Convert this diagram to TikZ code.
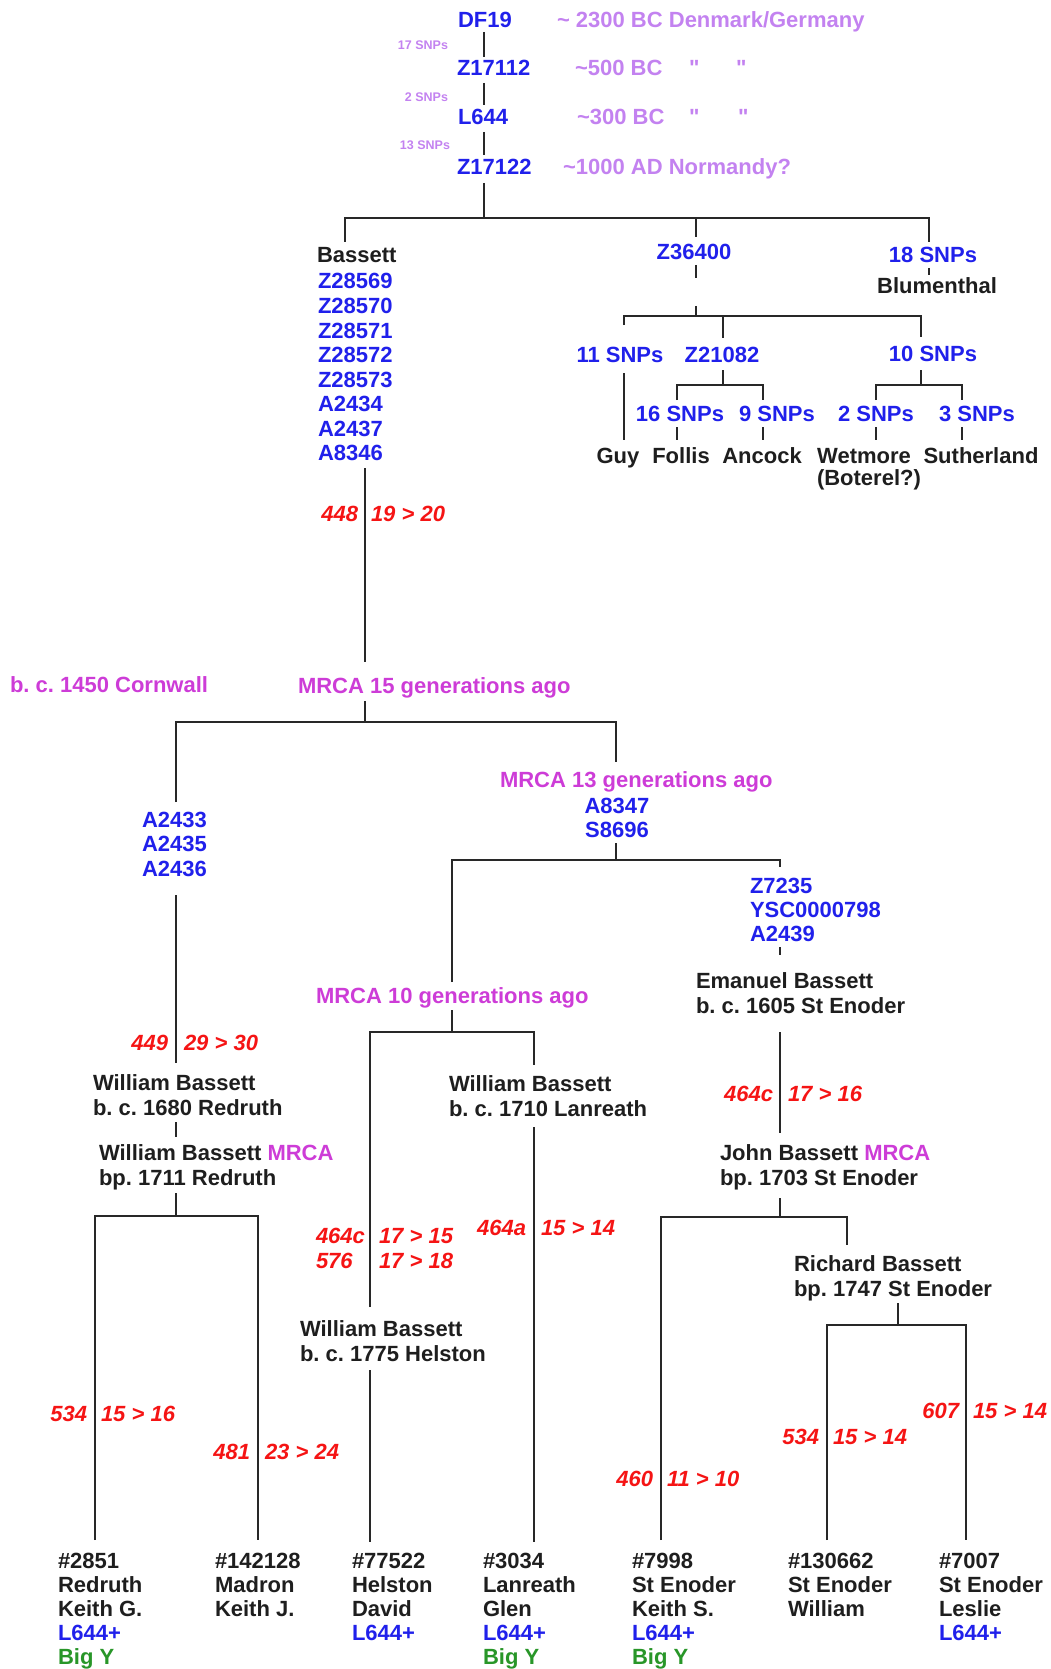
\documentclass[tikz,border=0pt]{standalone}
\usepackage{fontspec}
\setmainfont{Liberation Sans}
\frenchspacing
\definecolor{tblue}{RGB}{32,32,235}
\definecolor{tred}{RGB}{245,20,20}
\definecolor{tgreen}{RGB}{40,150,40}
\definecolor{tmag}{RGB}{205,60,215}
\definecolor{tlav}{RGB}{195,130,240}
\definecolor{tline}{RGB}{40,40,40}
\definecolor{tblack}{RGB}{30,30,30}
\newcommand\straightq{{\addfontfeatures{Ligatures=TeXOff}\symbol{34}}}
\begin{document}
\begin{tikzpicture}[x=1pt,y=-1pt,
  every node/.style={inner sep=0pt,outer sep=0pt,font=\fontsize{22}{24}\selectfont\bfseries},
  lbl/.style={anchor=base west},
  ctr/.style={anchor=base},
  rgt/.style={anchor=base east},
  snp/.style={text=tblue},
  nm/.style={text=tblack},
  date/.style={text=tlav},
  mrca/.style={text=tmag},
  cnt/.style={text=tred,font=\fontsize{22}{24}\selectfont\bfseries\itshape},
  small/.style={text=tlav,font=\fontsize{12.5}{14}\selectfont\bfseries},
  bigy/.style={text=tgreen},
  br/.style={draw=tline,line width=2.4pt},
]
\useasboundingbox (0,0) rectangle (1051,1669);

% ---------- top chain ----------
\node[snp,lbl] (df19) at (458,28) {DF19};
\node[snp,lbl] (z17112) at (457,76) {Z17112};
\node[snp,lbl] (l644) at (458,125) {L644};
\node[snp,lbl] (z17122) at (457,175) {Z17122};
\node[small,rgt] (s17) at (448,49.5) {17 SNPs};
\node[small,rgt] (s2) at (448,101.5) {2 SNPs};
\node[small,rgt] (s13) at (450,149.5) {13 SNPs};
\node[date,lbl] (d1) at (557,28) {\textasciitilde{} 2300 BC Denmark/Germany};
\node[date,lbl] (d2) at (575,76) {\textasciitilde500 BC};
\node[date,lbl] (q1) at (689,76) {\straightq};
\node[date,lbl] (q2) at (736,76) {\straightq};
\node[date,lbl] (d3) at (577,125) {\textasciitilde300 BC};
\node[date,lbl] (q3) at (689,125) {\straightq};
\node[date,lbl] (q4) at (738,125) {\straightq};
\node[date,lbl] (d4) at (563,175) {\textasciitilde1000 AD Normandy?};

\coordinate (a1) at (484,32); \coordinate (a2) at (484,57);
\coordinate (a3) at (484,83); \coordinate (a4) at (484,105);
\coordinate (a5) at (484,132); \coordinate (a6) at (484,155);
\coordinate (a7) at (484,183); \coordinate (a8) at (484,218);
\draw[br] (a1)--(a2); \draw[br] (a3)--(a4); \draw[br] (a5)--(a6); \draw[br] (a7)--(a8);

% top bar
\coordinate (tb1) at (345,242); \coordinate (tb2) at (345,218);
\coordinate (tb3) at (929,218); \coordinate (tb4) at (929,242);
\draw[br] (tb1)--(tb2)--(tb3)--(tb4);
\coordinate (zd1) at (696,218); \coordinate (zd2) at (696,237);
\draw[br] (zd1)--(zd2);

% ---------- Bassett column ----------
\node[nm,lbl] (bassett) at (317,263) {Bassett};
\node[snp,lbl] (z28569) at (318,289) {Z28569};
\node[snp,lbl] (z28570) at (318,313.5) {Z28570};
\node[snp,lbl] (z28571) at (318,338) {Z28571};
\node[snp,lbl] (z28572) at (318,362.5) {Z28572};
\node[snp,lbl] (z28573) at (318,387) {Z28573};
\node[snp,lbl] (a2434) at (318,411.5) {A2434};
\node[snp,lbl] (a2437) at (318,436) {A2437};
\node[snp,lbl] (a8346) at (318,460.5) {A8346};
\coordinate (bl1) at (365,468); \coordinate (bl2) at (365,662);
\draw[br] (bl1)--(bl2);
\node[cnt,rgt] (c448) at (358,521) {448};
\node[cnt,lbl] (g448) at (371,521) {19 > 20};

% ---------- Z36400 branch ----------
\node[snp,ctr] (z36400) at (694,260) {Z36400};
\coordinate (zt1) at (696,265); \coordinate (zt2) at (696,278);
\draw[br] (zt1)--(zt2);
\coordinate (zt3) at (696,306); \coordinate (zt4) at (696,316);
\draw[br] (zt3)--(zt4);
\coordinate (zb1) at (624,325); \coordinate (zb2) at (624,316);
\coordinate (zb3) at (921,316); \coordinate (zb4) at (921,337);
\draw[br] (zb1)--(zb2)--(zb3)--(zb4);
\coordinate (zm1) at (723,316); \coordinate (zm2) at (723,338);
\draw[br] (zm1)--(zm2);

\node[snp,ctr] (s18) at (933,263) {18 SNPs};
\coordinate (bt1) at (929,268); \coordinate (bt2) at (929,275);
\draw[br] (bt1)--(bt2);
\node[nm,ctr] (blum) at (937,294) {Blumenthal};

\node[snp,ctr] (s11) at (620,362) {11 SNPs};
\node[snp,ctr] (z21082) at (722,362) {Z21082};
\node[snp,ctr] (s10) at (933,361) {10 SNPs};

\coordinate (gl1) at (624,373); \coordinate (gl2) at (624,440);
\draw[br] (gl1)--(gl2);

\coordinate (zs1) at (723,370); \coordinate (zs2) at (723,385);
\draw[br] (zs1)--(zs2);
\coordinate (zc1) at (677,400); \coordinate (zc2) at (677,385);
\coordinate (zc3) at (763,385); \coordinate (zc4) at (763,400);
\draw[br] (zc1)--(zc2)--(zc3)--(zc4);

\coordinate (ts1) at (921,370); \coordinate (ts2) at (921,385);
\draw[br] (ts1)--(ts2);
\coordinate (tc1) at (876,400); \coordinate (tc2) at (876,385);
\coordinate (tc3) at (962,385); \coordinate (tc4) at (962,400);
\draw[br] (tc1)--(tc2)--(tc3)--(tc4);

\node[snp,ctr] (s16) at (680,421) {16 SNPs};
\node[snp,ctr] (s9) at (777,421) {9 SNPs};
\node[snp,ctr] (s2b) at (876,421) {2 SNPs};
\node[snp,ctr] (s3) at (977,421) {3 SNPs};

\coordinate (k1) at (677,427); \coordinate (k2) at (677,440);
\coordinate (k3) at (763,427); \coordinate (k4) at (763,440);
\coordinate (k5) at (876,427); \coordinate (k6) at (876,440);
\coordinate (k7) at (962,427); \coordinate (k8) at (962,440);
\draw[br] (k1)--(k2); \draw[br] (k3)--(k4); \draw[br] (k5)--(k6); \draw[br] (k7)--(k8);

\node[nm,ctr] (guy) at (618,463) {Guy};
\node[nm,ctr] (follis) at (681,463) {Follis};
\node[nm,ctr] (ancock) at (762,463) {Ancock};
\node[nm,ctr] (wetmore) at (864,463) {Wetmore};
\node[nm,ctr] (suth) at (981,463) {Sutherland};
\node[nm,lbl] (boterel) at (817,485) {(Boterel?)};

% ---------- MRCA 15 ----------
\node[mrca,lbl] (corn) at (10,692) {b. c. 1450 Cornwall};
\node[mrca,lbl] (m15) at (298,693) {MRCA 15 generations ago};
\coordinate (m1) at (365,701); \coordinate (m2) at (365,722);
\draw[br] (m1)--(m2);
\coordinate (mb1) at (176,802); \coordinate (mb2) at (176,722);
\coordinate (mb3) at (616,722); \coordinate (mb4) at (616,762);
\draw[br] (mb1)--(mb2)--(mb3)--(mb4);

% left branch
\node[snp,lbl] (a2433) at (142,827) {A2433};
\node[snp,lbl] (a2435) at (142,851.5) {A2435};
\node[snp,lbl] (a2436) at (142,876) {A2436};
\coordinate (ll1) at (176,895); \coordinate (ll2) at (176,1063);
\draw[br] (ll1)--(ll2);
\node[cnt,rgt] (c449) at (168,1050) {449};
\node[cnt,lbl] (g449) at (184,1050) {29 > 30};
\node[nm,lbl] (wb1680a) at (93,1090) {William Bassett};
\node[nm,lbl] (wb1680b) at (93,1115) {b. c. 1680 Redruth};
\coordinate (lt1) at (176,1122); \coordinate (lt2) at (176,1137);
\draw[br] (lt1)--(lt2);
\node[nm,lbl] (wb1711a) at (99,1160) {William Bassett \textcolor{tmag}{MRCA}};
\node[nm,lbl] (wb1711b) at (99,1185) {bp. 1711 Redruth};
\coordinate (ls1) at (176,1193); \coordinate (ls2) at (176,1216);
\draw[br] (ls1)--(ls2);
\coordinate (lb1) at (95,1540); \coordinate (lb2) at (95,1216);
\coordinate (lb3) at (258,1216); \coordinate (lb4) at (258,1540);
\draw[br] (lb1)--(lb2)--(lb3)--(lb4);
\node[cnt,rgt] (c534a) at (87,1421) {534};
\node[cnt,lbl] (g534a) at (101,1421) {15 > 16};
\node[cnt,rgt] (c481) at (250,1459) {481};
\node[cnt,lbl] (g481) at (265,1459) {23 > 24};

% right branch: MRCA 13
\node[mrca,lbl] (m13) at (500,787) {MRCA 13 generations ago};
\node[snp,ctr] (a8347) at (617,813) {A8347};
\node[snp,ctr] (s8696) at (617,837) {S8696};
\coordinate (r1) at (616,843); \coordinate (r2) at (616,860);
\draw[br] (r1)--(r2);
\coordinate (rb1) at (452,982); \coordinate (rb2) at (452,860);
\coordinate (rb3) at (780,860); \coordinate (rb4) at (780,867);
\draw[br] (rb1)--(rb2)--(rb3)--(rb4);

% MRCA 10
\node[mrca,lbl] (m10) at (316,1003) {MRCA 10 generations ago};
\coordinate (t1) at (452,1010); \coordinate (t2) at (452,1032);
\draw[br] (t1)--(t2);
\coordinate (tb5) at (370,1307); \coordinate (tb6) at (370,1032);
\coordinate (tb7) at (534,1032); \coordinate (tb8) at (534,1065);
\draw[br] (tb5)--(tb6)--(tb7)--(tb8);
\node[cnt,lbl] (c464c) at (316,1243) {464c};
\node[cnt,lbl] (g464c) at (379,1243) {17 > 15};
\node[cnt,lbl] (c576) at (316,1268) {576};
\node[cnt,lbl] (g576) at (379,1268) {17 > 18};
\node[nm,lbl] (wb1775a) at (300,1336) {William Bassett};
\node[nm,lbl] (wb1775b) at (300,1361) {b. c. 1775 Helston};
\coordinate (h1) at (370,1370); \coordinate (h2) at (370,1542);
\draw[br] (h1)--(h2);
\node[nm,lbl] (wb1710a) at (449,1091) {William Bassett};
\node[nm,lbl] (wb1710b) at (449,1116) {b. c. 1710 Lanreath};
\coordinate (n1) at (534,1127); \coordinate (n2) at (534,1542);
\draw[br] (n1)--(n2);
\node[cnt,rgt] (c464a) at (526,1235) {464a};
\node[cnt,lbl] (g464a) at (541,1235) {15 > 14};

% St Enoder branch
\node[snp,lbl] (z7235) at (750,893) {Z7235};
\node[snp,lbl] (ysc) at (750,917) {YSC0000798};
\node[snp,lbl] (a2439) at (750,941) {A2439};
\coordinate (e1) at (780,947); \coordinate (e2) at (780,955);
\draw[br] (e1)--(e2);
\node[nm,lbl] (emana) at (696,988) {Emanuel Bassett};
\node[nm,lbl] (emanb) at (696,1013) {b. c. 1605 St Enoder};
\coordinate (e3) at (780,1032); \coordinate (e4) at (780,1133);
\draw[br] (e3)--(e4);
\node[cnt,rgt] (c464cb) at (773,1101) {464c};
\node[cnt,lbl] (g464cb) at (788,1101) {17 > 16};
\node[nm,lbl] (johna) at (720,1160) {John Bassett \textcolor{tmag}{MRCA}};
\node[nm,lbl] (johnb) at (720,1185) {bp. 1703 St Enoder};
\coordinate (e5) at (780,1198); \coordinate (e6) at (780,1217);
\draw[br] (e5)--(e6);
\coordinate (eb1) at (661,1540); \coordinate (eb2) at (661,1217);
\coordinate (eb3) at (847,1217); \coordinate (eb4) at (847,1245);
\draw[br] (eb1)--(eb2)--(eb3)--(eb4);
\node[cnt,rgt] (c460) at (653,1486) {460};
\node[cnt,lbl] (g460) at (667,1486) {11 > 10};
\node[nm,lbl] (richa) at (794,1271) {Richard Bassett};
\node[nm,lbl] (richb) at (794,1296) {bp. 1747 St Enoder};
\coordinate (f1) at (898,1303); \coordinate (f2) at (898,1325);
\draw[br] (f1)--(f2);
\coordinate (fb1) at (827,1540); \coordinate (fb2) at (827,1325);
\coordinate (fb3) at (966,1325); \coordinate (fb4) at (966,1540);
\draw[br] (fb1)--(fb2)--(fb3)--(fb4);
\node[cnt,rgt] (c534b) at (819,1444) {534};
\node[cnt,lbl] (g534b) at (833,1444) {15 > 14};
\node[cnt,rgt] (c607) at (959,1418) {607};
\node[cnt,lbl] (g607) at (973,1418) {15 > 14};

% ---------- bottom leaves ----------
\node[nm,lbl] (p1a) at (58,1568) {\#2851};
\node[nm,lbl] (p1b) at (58,1592) {Redruth};
\node[nm,lbl] (p1c) at (58,1616) {Keith G.};
\node[snp,lbl] (p1d) at (58,1640) {L644+};
\node[bigy,lbl] (p1e) at (58,1664) {Big Y};

\node[nm,lbl] (p2a) at (215,1568) {\#142128};
\node[nm,lbl] (p2b) at (215,1592) {Madron};
\node[nm,lbl] (p2c) at (215,1616) {Keith J.};

\node[nm,lbl] (p3a) at (352,1568) {\#77522};
\node[nm,lbl] (p3b) at (352,1592) {Helston};
\node[nm,lbl] (p3c) at (352,1616) {David};
\node[snp,lbl] (p3d) at (352,1640) {L644+};

\node[nm,lbl] (p4a) at (483,1568) {\#3034};
\node[nm,lbl] (p4b) at (483,1592) {Lanreath};
\node[nm,lbl] (p4c) at (483,1616) {Glen};
\node[snp,lbl] (p4d) at (483,1640) {L644+};
\node[bigy,lbl] (p4e) at (483,1664) {Big Y};

\node[nm,lbl] (p5a) at (632,1568) {\#7998};
\node[nm,lbl] (p5b) at (632,1592) {St Enoder};
\node[nm,lbl] (p5c) at (632,1616) {Keith S.};
\node[snp,lbl] (p5d) at (632,1640) {L644+};
\node[bigy,lbl] (p5e) at (632,1664) {Big Y};

\node[nm,lbl] (p6a) at (788,1568) {\#130662};
\node[nm,lbl] (p6b) at (788,1592) {St Enoder};
\node[nm,lbl] (p6c) at (788,1616) {William};

\node[nm,lbl] (p7a) at (939,1568) {\#7007};
\node[nm,lbl] (p7b) at (939,1592) {St Enoder};
\node[nm,lbl] (p7c) at (939,1616) {Leslie};
\node[snp,lbl] (p7d) at (939,1640) {L644+};
\end{tikzpicture}
\end{document}
